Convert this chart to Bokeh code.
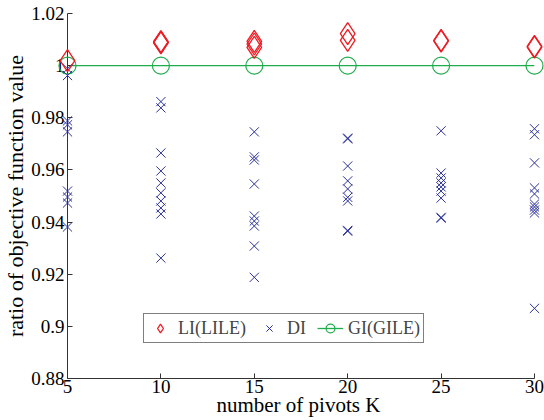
from bokeh.plotting import figure
from bokeh.models import Range1d, Legend, LegendItem, FixedTicker, CustomJSTickFormatter
from bokeh.embed import file_html
from bokeh.resources import INLINE

# ---- data ----
K = [5, 10, 15, 20, 25, 30]
gi_values = [1.0, 1.0, 1.0, 1.0, 1.0, 1.0]

li_5 = [1.0019]
li_10 = [1.0087, 1.0090, 1.0092]
li_15 = [1.0093, 1.0083, 1.0070]
li_20 = [1.0123, 1.0097]
li_25 = [1.0094, 1.0097]
li_30 = [1.0071, 1.0074]

di_5 = [0.9988, 0.9962, 0.9788, 0.9773, 0.9746, 0.9519, 0.9496, 0.9473, 0.9381]
di_10 = [0.9862, 0.9838, 0.9665, 0.9596, 0.9550, 0.9512, 0.9481, 0.9454, 0.9431, 0.9262]
di_15 = [0.9746, 0.9650, 0.9638, 0.9546, 0.9423, 0.9404, 0.9385, 0.9308, 0.9188]
di_20 = [0.9719, 0.9722, 0.9615, 0.9558, 0.9527, 0.9495, 0.9481, 0.9365, 0.9368]
di_25 = [0.9750, 0.9588, 0.9569, 0.9550, 0.9535, 0.9519, 0.9492, 0.9415, 0.9418]
di_30 = [0.9758, 0.9735, 0.9627, 0.9531, 0.9508, 0.9469, 0.9458, 0.9446, 0.9435, 0.9069]

y_ticks = [0.88, 0.90, 0.92, 0.94, 0.96, 0.98, 1.00, 1.02]
x_ticks = [5, 10, 15, 20, 25, 30]

li_groups = [li_5, li_10, li_15, li_20, li_25, li_30]
di_groups = [di_5, di_10, di_15, di_20, di_25, di_30]

li_x, li_y, di_x, di_y = [], [], [], []
for k, vals in zip(K, li_groups):
    li_x += [k] * len(vals)
    li_y += vals
for k, vals in zip(K, di_groups):
    di_x += [k] * len(vals)
    di_y += vals

RED = "#ed1c24"
BLUE = "#2b3199"
GREEN = "#1fad4b"
FONT = "Liberation Serif"

p = figure(width=544, height=420, output_backend="svg", toolbar_location=None,
           x_range=Range1d(5, 30), y_range=Range1d(0.88, 1.02),
           min_border_left=67, min_border_right=10, min_border_top=13, min_border_bottom=42)
p.outline_line_color = None
p.xgrid.visible = False
p.ygrid.visible = False
p.background_fill_color = "white"
p.border_fill_color = "white"

# markers on the overlay level so that those at K=5 and K=30 are not clipped
r_gi_line = p.line(K, gi_values, line_color=GREEN, line_width=1.3)
r_gi_circ = p.scatter(K, gi_values, marker="circle", size=17, fill_color=None,
                      line_color=GREEN, line_width=1.2, level="overlay")
r_di = p.scatter(di_x, di_y, marker="x", size=13, line_color=BLUE, line_width=1.0,
                 level="overlay")
r_li = p.scatter(li_x, li_y, marker="diamond", size=22, fill_color=None,
                 line_color=RED, line_width=1.3, level="overlay")

for ax in (p.xaxis[0], p.yaxis[0]):
    ax.major_tick_in = 5
    ax.major_tick_out = 0
    ax.minor_tick_in = 0
    ax.minor_tick_out = 0
    ax.axis_line_color = "#333333"
    ax.major_tick_line_color = "#333333"
    ax.major_label_text_font = FONT
    ax.major_label_text_font_size = "19px"
    ax.major_label_text_color = "black"
    ax.axis_label_text_font = FONT
    ax.axis_label_text_font_style = "normal"
    ax.axis_label_text_color = "black"

p.xaxis[0].ticker = FixedTicker(ticks=x_ticks)
p.yaxis[0].ticker = FixedTicker(ticks=y_ticks)
p.yaxis[0].formatter = CustomJSTickFormatter(
    code="var s = tick.toFixed(2); s = s.replace(/0+$/, ''); s = s.replace(/\\.$/, ''); return s;")
p.xaxis[0].axis_label = "number of pivots  K"
p.yaxis[0].axis_label = "ratio of objective function value"
p.xaxis[0].axis_label_text_font_size = "21px"
p.yaxis[0].axis_label_text_font_size = "22px"
p.xaxis[0].major_label_standoff = 1
p.xaxis[0].axis_label_standoff = -3
p.yaxis[0].major_label_standoff = 3
p.yaxis[0].axis_label_standoff = 0

legend = Legend(items=[
    LegendItem(label="LI(LILE)", renderers=[r_li]),
    LegendItem(label="DI", renderers=[r_di]),
    LegendItem(label="GI(GILE)", renderers=[r_gi_line, r_gi_circ]),
], orientation="horizontal", location=(76, 35))
legend.label_text_font = FONT
legend.label_text_font_size = "18px"
legend.border_line_color = "black"
legend.border_line_width = 1
legend.background_fill_alpha = 1
legend.padding = 3
legend.spacing = 10
legend.label_standoff = 5
legend.glyph_width = 26
legend.glyph_height = 22
legend.margin = 0
p.add_layout(legend, "center")

open("out.html", "w").write(file_html(p, INLINE))
